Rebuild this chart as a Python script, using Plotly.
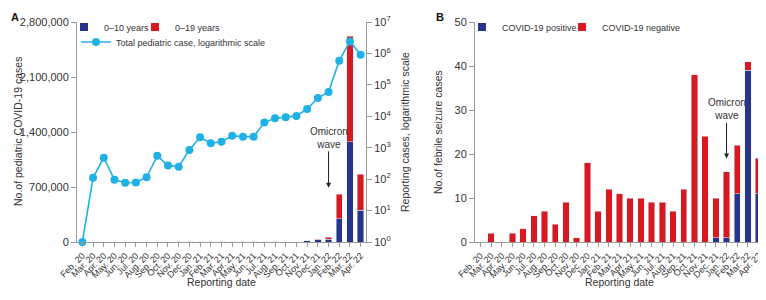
import plotly.graph_objects as go

months = ["Feb. 20", "Mar. 20", "Apr. 20", "May. 20", "Jun. 20", "Jul. 20", "Aug. 20", "Sep. 20",
          "Oct. 20", "Nov. 20", "Dec. 20", "Jan. 21", "Feb. 21", "Mar. 21", "Apr. 21", "May. 21",
          "Jun. 21", "Jul. 21", "Aug. 21", "Sep. 21", "Oct. 21", "Nov. 21", "Dec. 21", "Jan. 22",
          "Feb. 22", "Mar. 22", "Apr. 22"]

# Panel A
cases_0_10 = [0, 0, 0, 0, 0, 0, 0, 0, 0, 5000, 5000, 5000, 5000, 5000, 5000, 5000,
              5000, 5000, 5000, 0, 0, 14000, 28000, 35000, 296000, 1276000, 407000]
cases_0_19 = [0, 0, 0, 0, 0, 0, 0, 0, 0, 5000, 5000, 5000, 5000, 5000, 5000, 5000,
              5000, 5000, 5000, 0, 0, 14000, 34000, 60000, 610000, 2620000, 865000]
total_log = [1, 110, 480, 95, 77, 78, 115, 550, 270, 250, 850, 2150, 1390, 1560, 2400, 2250,
             2250, 6300, 8700, 9400, 10300, 17000, 38000, 59000, 590000, 2400000, 910000]

# Panel B
covid_pos = [0, 0, 0, 0, 0, 0, 0, 0, 0, 0, 0, 0, 0, 0, 0, 0,
             0, 0, 0, 0, 0, 0, 1, 1, 11, 39, 11]
covid_neg = [0, 2, 0, 2, 3, 6, 7, 4, 9, 1, 18, 7, 12, 11, 10, 10,
             9, 9, 7, 12, 38, 24, 9, 15, 11, 2, 8]

BLUE = "#27348b"
RED = "#d71920"
LINE = "#1fb1e6"
AX = "#9a9a9a"
TXT = "#333333"
FONT = "Liberation Sans"

# page body has an 8px margin: figure is drawn at (8, 8)
OFF = 8
FW, FH = 766 - OFF, 300 - OFF
TOP, BOT = 22, 242            # plot area top/bottom in screen pixels
PH = BOT - TOP


def px(x):
    return (x - OFF) / FW


def py(y):
    return (BOT - y) / PH


red_seg = [t - b for t, b in zip(cases_0_19, cases_0_10)]

fig = go.Figure()
fig.add_trace(go.Bar(x=months, y=cases_0_10, name="0–10 years", marker_color=BLUE,
                     xaxis="x", yaxis="y", showlegend=False))
fig.add_trace(go.Bar(x=months, y=red_seg, name="0–19 years", marker_color=RED,
                     xaxis="x", yaxis="y", showlegend=False))
fig.add_trace(go.Scatter(x=months, y=total_log, name="Total pediatric case, logarithmic scale",
                         mode="lines+markers", line=dict(color=LINE, width=1.6),
                         marker=dict(color=LINE, size=8), cliponaxis=False,
                         xaxis="x", yaxis="y2", legend="legend2"))
fig.add_trace(go.Bar(x=months, y=covid_pos, name="COVID-19 positive", marker_color=BLUE,
                     xaxis="x2", yaxis="y3", showlegend=False))
fig.add_trace(go.Bar(x=months, y=covid_neg, name="COVID-19 negative", marker_color=RED,
                     xaxis="x2", yaxis="y3", showlegend=False))

# legend keys (small squares) for the bar series
legend_keys = [("0–10 years", BLUE, "x", "y", "legend"),
               ("0–19 years", RED, "x", "y", "legend4"),
               ("COVID-19 positive", BLUE, "x2", "y3", "legend3"),
               ("COVID-19 negative", RED, "x2", "y3", "legend5")]
for name, col, xa, ya, lg in legend_keys:
    fig.add_trace(go.Scatter(x=[None], y=[None], mode="markers", name=name,
                             marker=dict(symbol="square", size=8, color=col),
                             xaxis=xa, yaxis=ya, legend=lg))

domA = [px(77), px(366)]
domB = [px(475), px(764)]

xcommon = dict(type="category", range=[-0.5, 26.5], tickangle=-45, ticks="outside", ticklen=4,
               tickcolor=AX, showline=True, linecolor=AX, linewidth=1, showgrid=False,
               tickmode="linear", tick0=0, dtick=1, automargin=False,
               tickfont=dict(size=9, color=TXT, family=FONT), zeroline=False)
ycommon = dict(ticks="outside", ticklen=5, tickcolor=AX, showline=True, linecolor=AX, linewidth=1,
               showgrid=False, zeroline=False, automargin=False,
               tickfont=dict(size=11, color=TXT, family=FONT))

legfont = dict(size=9, color=TXT, family=FONT)


def leg(text_x, row_y):
    return dict(x=px(text_x - 36), y=py(row_y - 14.5), xanchor="left", yanchor="top",
                orientation="h", bgcolor="rgba(0,0,0,0)", font=legfont)


fig.update_layout(
    width=FW, height=FH,
    margin=dict(l=0, r=0, t=TOP - OFF, b=FH - (BOT - OFF), autoexpand=False),
    paper_bgcolor="white", plot_bgcolor="white",
    font=dict(family=FONT, color=TXT),
    barmode="stack", bargap=0.4,
    xaxis=dict(domain=domA, anchor="y", **xcommon),
    yaxis=dict(domain=[0, 1], anchor="x", range=[0, 2800000],
               tickvals=[0, 700000, 1400000, 2100000, 2800000], tickformat=",", **ycommon),
    yaxis2=dict(overlaying="y", side="right", anchor="x", type="log", range=[0, 7],
                tickvals=[1, 10, 100, 1000, 1e4, 1e5, 1e6, 1e7],
                ticktext=["10<sup>%d</sup>" % i for i in range(8)], **ycommon),
    xaxis2=dict(domain=domB, anchor="y3", **xcommon),
    yaxis3=dict(domain=[0, 1], anchor="x2", range=[0, 50], dtick=10, **ycommon),
    legend=leg(100, 27),
    legend4=leg(171, 27),
    legend2=dict(x=px(116 - 40), y=py(42 - 14.5), xanchor="left", yanchor="top",
                 orientation="h", bgcolor="rgba(0,0,0,0)", font=legfont),
    legend3=leg(498, 27),
    legend5=leg(598, 27),
)


def note(text, x, y, angle=0, size=10.5, color=TXT, xanchor="center"):
    return dict(text=text, xref="paper", yref="paper", x=px(x), y=py(y), textangle=angle,
                xanchor=xanchor, yanchor="middle", showarrow=False,
                font=dict(size=size, color=color, family=FONT))


annotations = [
    note("<b>A</b>", 9, 17, size=11, color="#111", xanchor="left"),
    note("<b>B</b>", 434, 17, size=11, color="#111", xanchor="left"),
    note("No.of pediatric COVID-19 cases", 18, 132, angle=-90),
    note("Reporting cases, logarithmic scale", 405, 132, angle=-90),
    note("No.of febrile seizure cases", 438, 132, angle=-90),
    note("Reporting date", (77 + 366) / 2, 282),
    note("Reporting date", (475 + 764) / 2, 282),
]
# omicron arrows
annotations.append(dict(text="Omicron<br>wave", x="Jan. 22", y=690000, xref="x", yref="y",
                        showarrow=True, ax=0, ay=-50, arrowhead=2, arrowsize=1, arrowwidth=1,
                        arrowcolor="#222", font=dict(size=10, color=TXT)))
annotations.append(dict(text="Omicron<br>wave", x="Jan. 22", y=19, xref="x2", yref="y3",
                        showarrow=True, ax=0, ay=-49, arrowhead=2, arrowsize=1, arrowwidth=1,
                        arrowcolor="#222", font=dict(size=10, color=TXT)))
fig.update_layout(annotations=annotations)

fig.write_html("out.html")
